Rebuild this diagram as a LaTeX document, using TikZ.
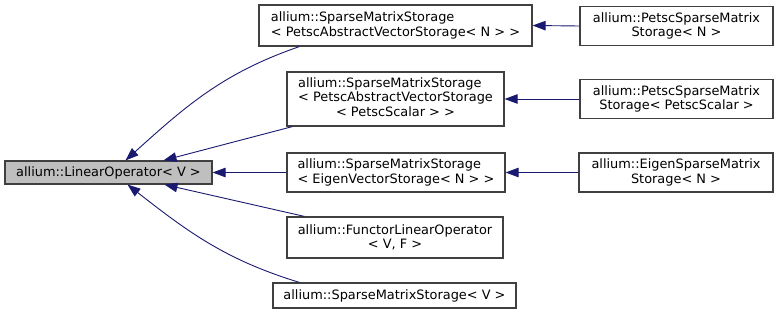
\documentclass[tikz,border=0pt]{standalone}
\usepackage{fontspec}
\setmainfont{DejaVu Sans}
\usetikzlibrary{arrows.meta}

\definecolor{edgeblue}{HTML}{191970}
\definecolor{basegray}{HTML}{BFBFBF}
\definecolor{boxline}{HTML}{404040}

\begin{document}
\begin{tikzpicture}[x=1pt, y=1pt,
    font=\fontsize{12.9}{14.5}\selectfont,
    cls/.style={rectangle, draw=boxline, line width=1.2pt, inner sep=0pt, align=center},
    inh/.style={draw=edgeblue, line width=0.9pt, {Triangle[length=13pt,width=9.5pt]}-}]
  \useasboundingbox (0,0) rectangle (779,-315);

  % base class
  \node[cls, minimum width=207pt, minimum height=23pt, fill=basegray] (lo) at (108.5,-172.5) {allium::LinearOperator< V >};

  % direct children
  \node[cls, minimum width=273pt, minimum height=41pt, align=left] (smsN) at (395.5,-25.5) {allium::SparseMatrixStorage\\< PetscAbstractVectorStorage< N > >};
  \node[cls, minimum width=217pt, minimum height=54pt] (smsPS) at (395.5,-99) {\begin{tabular}{@{}l@{}}allium::SparseMatrixStorage\\< PetscAbstractVectorStorage\\\multicolumn{1}{@{}c@{}}{< PetscScalar > >}\end{tabular}};
  \node[cls, minimum width=218pt, minimum height=39pt, align=left] (smsE) at (396,-172.5) {allium::SparseMatrixStorage\\< EigenVectorStorage< N > >};
  \node[cls, minimum width=216pt, minimum height=41pt] (flo) at (395,-237.5) {allium::FunctorLinearOperator\\< V, F >};
  \node[cls, minimum width=243pt, minimum height=25pt] (smsV) at (394.5,-295.5) {allium::SparseMatrixStorage< V >};

  % grandchildren
  \node[cls, minimum width=193pt, minimum height=39pt] (psN) at (676.5,-26) {allium::PetscSparseMatrix\\Storage< N >};
  \node[cls, minimum width=193pt, minimum height=39pt] (psPS) at (676.5,-99) {allium::PetscSparseMatrix\\Storage< PetscScalar >};
  \node[cls, minimum width=194pt, minimum height=39pt] (esm) at (676,-172.5) {allium::EigenSparseMatrix\\Storage< N >};

  % inheritance arrows
  \foreach \base/\derived in {lo/smsE, smsN/psN, smsPS/psPS, smsE/esm}
    \draw[inh] (\base.east) -- (\derived.west);
  \draw[inh] ([xshift=17pt]lo.north) to[out=42,in=199] ([xshift=41pt]smsN.south west);
  \draw[inh] ([xshift=55pt]lo.north) -- ([xshift=6pt]smsPS.south west);
  \draw[inh] ([xshift=56pt]lo.south) -- ([xshift=18pt]flo.north west);
  \draw[inh] ([xshift=19pt]lo.south) to[out=-38,in=163] ([xshift=27pt]smsV.north west);
\end{tikzpicture}
\end{document}
